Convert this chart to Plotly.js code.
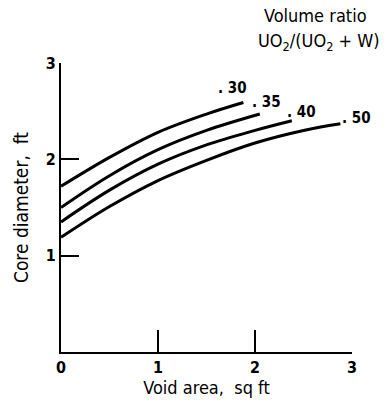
<!DOCTYPE html>
<html>
<head>
<meta charset="utf-8">
<script src="https://cdn.plot.ly/plotly-3.0.1.min.js"></script>
<style>html,body{margin:0;padding:0;background:#fff;}#chart{width:388px;height:407px;}</style>
</head>
<body>
<div id="chart"></div>
<script>
// Volume ratio UO2/(UO2 + W) curves: core diameter (ft) vs void area (sq ft)
const seriesNames = [".30", ".35", ".40", ".50"];
const x30 = [0, 0.5, 1.0, 1.5, 1.88];
const y30 = [1.72, 2.02, 2.28, 2.47, 2.59];
const x35 = [0, 0.5, 1.0, 1.5, 2.05];
const y35 = [1.50, 1.83, 2.10, 2.30, 2.47];
const x40 = [0, 0.5, 1.0, 1.5, 2.0, 2.38];
const y40 = [1.35, 1.68, 1.95, 2.15, 2.30, 2.40];
const x50 = [0, 0.5, 1.0, 1.5, 2.0, 2.5, 2.88];
const y50 = [1.19, 1.51, 1.78, 1.99, 2.17, 2.30, 2.37];
const xTicks = [0, 1, 2, 3];
const yTicks = [1, 2, 3];
// label anchor positions (data units) for curve labels
const labelX = [1.77, 2.12, 2.48, 3.05];
const labelY = [2.74, 2.60, 2.49, 2.43];

const xs = [x30, x35, x40, x50];
const ys = [y30, y35, y40, y50];
const font = "DejaVu Sans Condensed, Liberation Sans Narrow, sans-serif";
const boldFont = "DejaVu Sans Condensed, sans-serif";

const traces = xs.map((x, i) => ({
  x: x, y: ys[i], type: "scatter", mode: "lines", name: seriesNames[i],
  line: {color: "#000", width: 3, shape: "spline"}, showlegend: false
}));

const XMAX = 3, YMAX = 3;
const annotations = seriesNames.map((s, i) => ({
  x: labelX[i] / XMAX, y: labelY[i] / YMAX, xref: "paper", yref: "paper",
  xanchor: "center", yanchor: "middle",
  text: "<b>" + s.replace(".", ". ") + "</b>",
  showarrow: false, font: {family: boldFont, size: 15, color: "#000"}
}));

const pw = 388 - 61 - 36, ph = 407 - 63 - 55;
function px2paper(px, py) { return [(px - 61) / pw, (407 - 55 - py) / ph]; }
let p = px2paper(262, 16);
annotations.push({
  x: p[0], y: p[1], xref: "paper", yref: "paper", text: "Volume ratio",
  showarrow: false, xanchor: "left", yanchor: "middle",
  font: {family: font, size: 18, color: "#000"}
});
p = px2paper(256, 42);
annotations.push({
  x: p[0], y: p[1], xref: "paper", yref: "paper",
  text: "UO<sub>2</sub>/(UO<sub>2</sub> + W)", showarrow: false,
  xanchor: "left", yanchor: "middle",
  font: {family: font, size: 18, color: "#000"}
});

const layout = {
  width: 388, height: 407,
  margin: {l: 61, r: 36, t: 63, b: 55},
  paper_bgcolor: "#fff", plot_bgcolor: "#fff",
  showlegend: false,
  xaxis: {
    range: [0, XMAX], tickvals: xTicks, ticktext: xTicks.map(v => "<b>" + v + "</b>"),
    ticks: "inside", ticklen: 22, tickwidth: 2, tickcolor: "#000",
    showline: true, linewidth: 2, linecolor: "#000", showgrid: false, zeroline: false,
    tickfont: {family: boldFont, size: 16, color: "#000"},
    title: {text: "Void area,  sq ft", font: {family: font, size: 18, color: "#000"}, standoff: 5}
  },
  yaxis: {
    range: [0, YMAX], tickvals: yTicks, ticktext: yTicks.map(v => "<b>" + v + "</b>"),
    ticks: "inside", ticklen: 18, tickwidth: 2, tickcolor: "#000",
    showline: true, linewidth: 2, linecolor: "#000", showgrid: false, zeroline: false,
    tickfont: {family: boldFont, size: 16, color: "#000"},
    title: {text: "Core diameter,  ft", font: {family: font, size: 19, color: "#000"}, standoff: 12}
  },
  annotations: annotations
};

Plotly.newPlot("chart", traces, layout, {staticPlot: true, displayModeBar: false});
</script>
</body>
</html>
